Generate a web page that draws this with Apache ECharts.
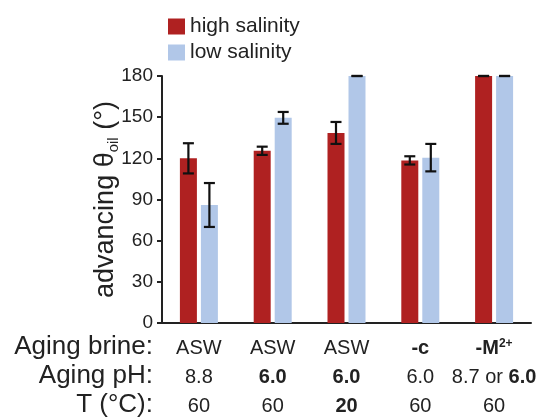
<!DOCTYPE html>
<html>
<head>
<meta charset="utf-8">
<script src="https://cdn.jsdelivr.net/npm/echarts@6/dist/echarts.min.js"></script>
<style>
  html, body { margin: 0; padding: 0; background: #fff; }
  #chart { width: 543px; height: 420px; }
</style>
</head>
<body>
<div id="chart"></div>
<script>
// Aging conditions per group (rich-text tags mark bold / superscript parts)
const brineLabels = ['ASW', 'ASW', 'ASW', '{b|-c}', '{b|-M}{sup|2+}'];
const phLabels = ['8.8', '{b|6.0}', '{b|6.0}', '6.0', '8.7 or {b|6.0}'];
const tempLabels = ['60', '60', '{b|20}', '60', '60'];
const categories = ['g1', 'g2', 'g3', 'g4', 'g5'];

// Advancing oil contact angle (degrees) and error
const highSalinity = [120, 125.5, 138.5, 118.5, 180];
const highSalinityErr = [11, 3, 8, 3, 0];
const lowSalinity = [86, 149.5, 180, 120.5, 180];
const lowSalinityErr = [16, 4.3, 0, 10, 0];

const yTicks = { min: 0, max: 180, interval: 30 };
const rowHeaders = ['Aging brine:', 'Aging pH:', 'T (°C):'];

const RED = '#AF2121';
const BLUE = '#B1C7E8';
const INK = '#222';
const BAR_W = 17;
const BAR_GAP = 4;
const FONT = 'Liberation Sans, Arial, Helvetica, sans-serif';

function errorSeries(name, values, errs, offset) {
  return {
    type: 'custom',
    name: name + ' error',
    z: 5,
    silent: true,
    data: values.map((v, i) => [i, v, errs[i]]),
    renderItem: function (params, api) {
      const idx = api.value(0);
      const v = api.value(1);
      const e = api.value(2);
      const x = api.coord([idx, v])[0] + offset;
      const yTop = api.coord([idx, v + e])[1];
      const yBot = api.coord([idx, v - e])[1];
      const cap = 5.5;
      const style = { stroke: '#111', lineWidth: 2.2 };
      return {
        type: 'group',
        children: [
          { type: 'line', shape: { x1: x, y1: yTop, x2: x, y2: yBot }, style: style },
          { type: 'line', shape: { x1: x - cap, y1: yTop, x2: x + cap, y2: yTop }, style: style },
          { type: 'line', shape: { x1: x - cap, y1: yBot, x2: x + cap, y2: yBot }, style: style }
        ]
      };
    }
  };
}

const chart = echarts.init(document.getElementById('chart'), null, { renderer: 'canvas' });

const headerGraphics = rowHeaders.map((t, i) => ({
  type: 'text',
  right: 543 - 153,
  top: 334 + i * 29,
  style: {
    text: t,
    fontSize: 26,
    fontFamily: FONT,
    fill: INK,
    textAlign: 'right'
  }
}));

chart.setOption({
  animation: false,
  textStyle: { fontFamily: FONT },
  grid: { left: 162, right: 12, top: 76, bottom: 97, containLabel: false, outerBoundsMode: 'none' },
  legend: {
    orient: 'vertical',
    left: 163,
    top: 11,
    itemWidth: 17,
    itemHeight: 16,
    itemGap: 5,
    icon: 'rect',
    data: ['high salinity', 'low salinity'],
    textStyle: { fontSize: 21, color: INK, fontFamily: FONT }
  },
  graphic: headerGraphics,
  xAxis: {
    type: 'category',
    data: categories,
    boundaryGap: true,
    axisLine: { lineStyle: { color: INK, width: 2 } },
    axisTick: { alignWithLabel: true, length: 5, lineStyle: { color: INK, width: 2 } },
    axisLabel: {
      interval: 0,
      margin: 11,
      fontSize: 20,
      lineHeight: 29,
      color: INK,
      fontFamily: FONT,
      formatter: function (value, idx) {
        return brineLabels[idx] + '\n' + phLabels[idx] + '\n' + tempLabels[idx];
      },
      rich: {
        b: { fontSize: 20, fontWeight: 'bold', lineHeight: 29, color: INK, fontFamily: FONT },
        sup: { fontSize: 12, fontWeight: 'bold', verticalAlign: 'top', lineHeight: 14, padding: [4, 0, 0, 0], color: INK, fontFamily: FONT }
      }
    }
  },
  yAxis: {
    type: 'value',
    min: yTicks.min,
    max: yTicks.max,
    interval: yTicks.interval,
    name: '{a|advancing θ}{s|oil}{a| (°)}',
    nameLocation: 'middle',
    nameRotate: 90,
    nameGap: 41,
    nameMoveOverlap: false,
    nameTextStyle: {
      rich: {
        a: { fontSize: 27, color: INK, fontFamily: FONT, lineHeight: 30 },
        s: { fontSize: 15, color: INK, fontFamily: FONT, verticalAlign: 'bottom', lineHeight: 30, padding: [8, 0, 0, 0] }
      }
    },
    splitLine: { show: false },
    axisLine: { show: true, lineStyle: { color: INK, width: 2 } },
    axisTick: { show: true, length: 5, lineStyle: { color: INK, width: 2 } },
    axisLabel: { fontSize: 19, color: INK, margin: 9, fontFamily: FONT }
  },
  series: [
    {
      name: 'high salinity',
      type: 'bar',
      data: highSalinity,
      barWidth: BAR_W,
      barGap: (BAR_GAP / BAR_W * 100).toFixed(1) + '%',
      itemStyle: { color: RED }
    },
    {
      name: 'low salinity',
      type: 'bar',
      data: lowSalinity,
      barWidth: BAR_W,
      itemStyle: { color: BLUE }
    },
    errorSeries('high salinity', highSalinity, highSalinityErr, -(BAR_W + BAR_GAP) / 2),
    errorSeries('low salinity', lowSalinity, lowSalinityErr, (BAR_W + BAR_GAP) / 2)
  ]
});
</script>
</body>
</html>
